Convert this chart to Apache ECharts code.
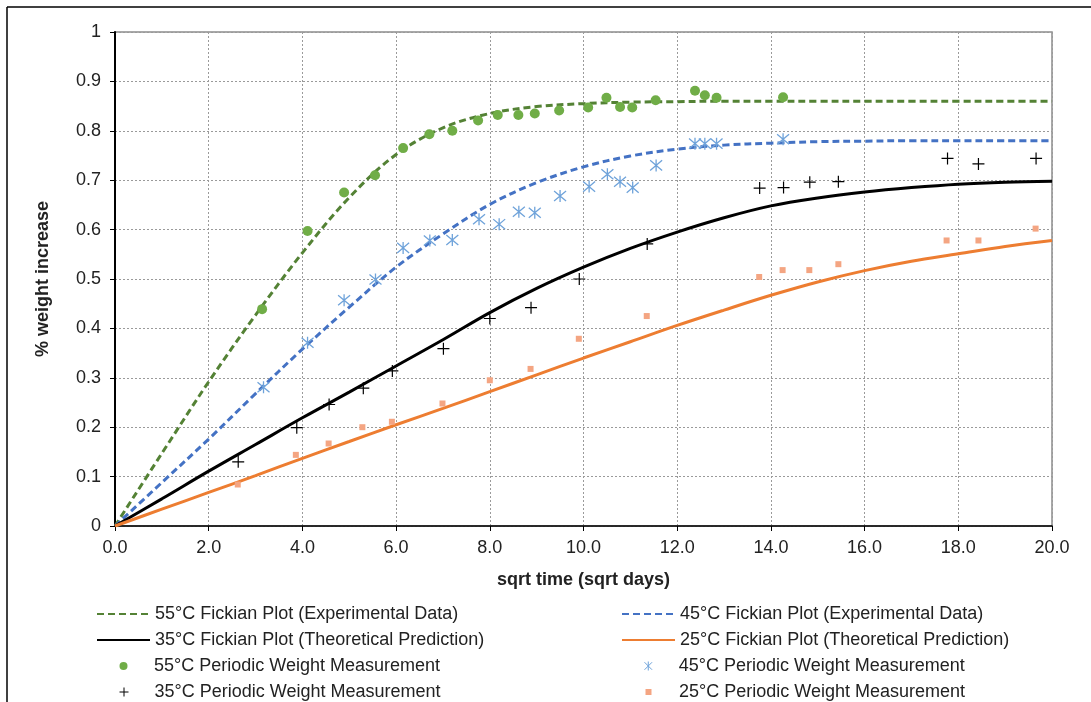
<!DOCTYPE html>
<html>
<head>
<meta charset="utf-8">
<script src="https://cdn.jsdelivr.net/npm/echarts@6/dist/echarts.min.js"></script>
<style>
html,body{margin:0;padding:0;background:#fff;}
#chart{width:1091px;height:702px;}
</style>
</head>
<body>
<div id="chart"></div>
<script>
// ---- Data ----
const xTicks = [0, 2, 4, 6, 8, 10, 12, 14, 16, 18, 20];
const curveX = [0, 1, 2, 3, 4, 5, 6, 7, 8, 9, 10, 11, 12, 13, 14, 15, 16, 17, 18, 19, 20];
const fick55 = [0, 0.147, 0.292, 0.427, 0.553, 0.665, 0.752, 0.806, 0.835, 0.849, 0.855, 0.858, 0.859, 0.86, 0.86, 0.86, 0.86, 0.86, 0.86, 0.86, 0.86];
const fick45 = [0, 0.088, 0.176, 0.268, 0.358, 0.443, 0.524, 0.591, 0.651, 0.695, 0.727, 0.749, 0.763, 0.771, 0.775, 0.778, 0.779, 0.78, 0.78, 0.78, 0.78];
const fick35 = [0, 0.055, 0.111, 0.165, 0.219, 0.271, 0.324, 0.377, 0.432, 0.481, 0.524, 0.562, 0.595, 0.624, 0.648, 0.664, 0.676, 0.685, 0.692, 0.696, 0.698];
const fick25 = [0, 0.034, 0.068, 0.102, 0.137, 0.171, 0.205, 0.238, 0.272, 0.306, 0.340, 0.373, 0.406, 0.437, 0.467, 0.494, 0.517, 0.536, 0.551, 0.566, 0.578];

const meas55X = [3.14, 4.11, 4.89, 5.55, 6.15, 6.71, 7.2, 7.75, 8.17, 8.61, 8.96, 9.48, 10.1, 10.49, 10.78, 11.04, 11.54, 12.38, 12.59, 12.84, 14.26];
const meas55Y = [0.439, 0.597, 0.675, 0.710, 0.765, 0.793, 0.800, 0.821, 0.832, 0.832, 0.835, 0.841, 0.847, 0.867, 0.848, 0.847, 0.862, 0.881, 0.872, 0.867, 0.868];
const meas45X = [3.17, 4.11, 4.89, 5.56, 6.15, 6.72, 7.2, 7.77, 8.2, 8.62, 8.96, 9.5, 10.12, 10.51, 10.78, 11.05, 11.55, 12.38, 12.59, 12.84, 14.26];
const meas45Y = [0.281, 0.371, 0.457, 0.499, 0.563, 0.578, 0.579, 0.621, 0.611, 0.636, 0.634, 0.668, 0.687, 0.712, 0.697, 0.685, 0.730, 0.774, 0.774, 0.774, 0.783];
const meas35X = [2.63, 3.88, 4.57, 5.30, 5.92, 7.01, 8.0, 8.88, 9.91, 11.36, 13.76, 14.27, 14.83, 15.44, 17.77, 18.43, 19.66];
const meas35Y = [0.130, 0.199, 0.246, 0.279, 0.314, 0.359, 0.420, 0.442, 0.500, 0.571, 0.684, 0.685, 0.696, 0.697, 0.744, 0.733, 0.744];
const meas25X = [2.62, 3.86, 4.56, 5.28, 5.91, 6.99, 8.0, 8.87, 9.90, 11.35, 13.75, 14.25, 14.82, 15.44, 17.75, 18.43, 19.65];
const meas25Y = [0.084, 0.144, 0.167, 0.200, 0.211, 0.248, 0.295, 0.318, 0.379, 0.425, 0.504, 0.518, 0.518, 0.530, 0.578, 0.578, 0.602];

const names = {
  f55: '55°C Fickian Plot (Experimental Data)',
  f45: '45°C Fickian Plot (Experimental Data)',
  f35: '35°C Fickian Plot (Theoretical Prediction)',
  f25: '25°C Fickian Plot (Theoretical Prediction)',
  m55: '55°C Periodic Weight Measurement',
  m45: '45°C Periodic Weight Measurement',
  m35: '35°C Periodic Weight Measurement',
  m25: '25°C Periodic Weight Measurement'
};

// ---- Build ----
const zip = (xs, ys) => xs.map((x, i) => [x, ys[i]]);
const FONT = 'Liberation Sans, Arial, sans-serif';
const TXT = '#222';

const PLUS = 'path://M5,0V10M0,5H10';
const STAR = 'path://M0.8,0.8L9.2,9.2M9.2,0.8L0.8,9.2M5,0V10';

function lineSeries(name, ys, color, type) {
  return {
    name: name, type: 'line', data: zip(curveX, ys), smooth: 0.35,
    symbol: 'none', showSymbol: false, z: 2,
    lineStyle: { color: color, width: 3, type: type, cap: 'butt' },
    itemStyle: { color: color },
    emphasis: { disabled: true }
  };
}

const series = [
  lineSeries(names.f55, fick55, '#548235', [7, 4]),
  lineSeries(names.f45, fick45, '#4472C4', [7, 4]),
  lineSeries(names.f35, fick35, '#000000', 'solid'),
  lineSeries(names.f25, fick25, '#ED7D31', 'solid'),
  { name: names.m55, type: 'scatter', data: zip(meas55X, meas55Y), symbol: 'circle', symbolSize: 10, z: 3,
    itemStyle: { color: '#70AD47', opacity: 1 } },
  { name: names.m45, type: 'scatter', data: zip(meas45X, meas45Y), symbol: STAR, symbolSize: 12, z: 3,
    itemStyle: { color: '#6FA3DA', borderColor: '#6FA3DA', borderWidth: 1.3, opacity: 1 } },
  { name: names.m35, type: 'scatter', data: zip(meas35X, meas35Y), symbol: PLUS, symbolSize: 12, z: 3,
    itemStyle: { color: '#000', borderColor: '#000', borderWidth: 1.2, opacity: 1 } },
  { name: names.m25, type: 'scatter', data: zip(meas25X, meas25Y), symbol: 'rect', symbolSize: 6, z: 3,
    itemStyle: { color: '#F4A582', opacity: 1 } }
];

// legend: one component per row for exact placement
const legendRows = [
  { n: names.f55, col: 0, row: 0, line: true },
  { n: names.f45, col: 1, row: 0, line: true },
  { n: names.f35, col: 0, row: 1, line: true },
  { n: names.f25, col: 1, row: 1, line: true },
  { n: names.m55, col: 0, row: 2, s: 8 },
  { n: names.m45, col: 1, row: 2, s: 9, bw: 1 },
  { n: names.m35, col: 0, row: 3, s: 9, bw: 1 },
  { n: names.m25, col: 1, row: 3, s: 6 }
];
const colLeft = [96, 621];
const iconW = 53;
const rowTop = [605, 631, 657, 683];
const legends = legendRows.map(r => {
  const textStyle = { fontSize: 18, fontFamily: FONT, color: TXT, lineHeight: 18 };
  if (r.line) {
    return {
      show: true, orient: 'vertical', left: colLeft[r.col], top: rowTop[r.row], padding: 0,
      itemWidth: iconW, itemHeight: 14, itemGap: 5, selectedMode: false, textStyle: textStyle,
      data: [{ name: r.n, itemStyle: { opacity: 0 } }]
    };
  }
  const centre = colLeft[r.col] + iconW / 2 + 1;
  const left = centre - r.s / 2;
  const textStart = colLeft[r.col] + iconW + 5;
  textStyle.padding = [0, 0, 0, textStart - (left + r.s + 5)];
  const item = { name: r.n };
  if (r.bw) item.itemStyle = { borderWidth: r.bw };
  return {
    show: true, orient: 'vertical', left: left, top: rowTop[r.row], padding: 0,
    itemWidth: r.s, itemHeight: r.s, itemGap: 5, selectedMode: false, textStyle: textStyle,
    data: [item]
  };
});

const chart = echarts.init(document.getElementById('chart'), null, { renderer: 'canvas' });
chart.setOption({
  animation: false,
  backgroundColor: '#fff',
  grid: { left: 115, top: 32, width: 937, height: 494, show: true, borderColor: '#8c8c8c', borderWidth: 1.5, backgroundColor: 'transparent' },
  legend: legends,
  xAxis: {
    type: 'value', min: 0, max: 20, interval: 2,
    name: 'sqrt time (sqrt days)', nameLocation: 'middle', nameGap: 45,
    nameTextStyle: { fontSize: 18, fontWeight: 'bold', fontFamily: FONT, color: TXT },
    axisLine: { show: true, onZero: false, lineStyle: { color: '#000', width: 1.5 } },
    axisTick: { show: true, inside: false, length: 5, lineStyle: { color: '#000', width: 1 } },
    axisLabel: { margin: 13, fontSize: 18, fontFamily: FONT, color: TXT,
      formatter: v => (xTicks.indexOf(v) >= 0 ? v.toFixed(1) : '') },
    splitLine: { show: true, lineStyle: { color: '#9a9a9a', width: 1, type: [2, 2] } }
  },
  yAxis: {
    type: 'value', min: 0, max: 1, interval: 0.1,
    name: '% weight increase', nameLocation: 'middle', nameGap: 63, nameRotate: 90,
    nameTextStyle: { fontSize: 18, fontWeight: 'bold', fontFamily: FONT, color: TXT },
    axisLine: { show: true, onZero: false, lineStyle: { color: '#000', width: 2 } },
    axisTick: { show: true, inside: false, length: 5, lineStyle: { color: '#000', width: 1 } },
    axisLabel: { margin: 14, fontSize: 18, fontFamily: FONT, color: TXT,
      formatter: v => String(+v.toFixed(1)) },
    splitLine: { show: true, lineStyle: { color: '#9a9a9a', width: 1, type: [2, 2] } }
  },
  graphic: [
    { type: 'line', shape: { x1: 7, y1: 7, x2: 1091, y2: 7 }, style: { stroke: '#000', lineWidth: 1.5 }, silent: true },
    { type: 'line', shape: { x1: 7, y1: 7, x2: 7, y2: 702 }, style: { stroke: '#000', lineWidth: 1.5 }, silent: true }
  ],
  series: series
});
</script>
</body>
</html>
